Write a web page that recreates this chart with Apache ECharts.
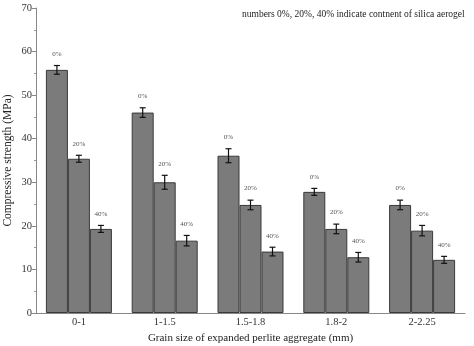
<!DOCTYPE html>
<html><head><meta charset="utf-8">
<script src="https://cdn.jsdelivr.net/npm/echarts@6/dist/echarts.min.js"></script>
<style>html,body{margin:0;padding:0;background:#fff}#c{width:474px;height:346px}</style>
</head><body><div id="c"></div>
<script>
var categories = ['0-1', '1-1.5', '1.5-1.8', '1.8-2', '2-2.25'];
var seriesNames = ['0%', '20%', '40%'];
var values0 = [55.8, 46.0, 36.1, 27.8, 24.8];
var values20 = [35.4, 30.0, 24.8, 19.3, 18.9];
var values40 = [19.3, 16.6, 14.1, 12.8, 12.2];
var err0 = [1.0, 1.1, 1.6, 0.8, 1.1];
var err20 = [0.8, 1.6, 1.1, 1.1, 1.2];
var err40 = [0.8, 1.2, 1.0, 1.1, 0.8];
var yTicks = [0, 10, 20, 30, 40, 50, 60, 70];

var allVals = [values0, values20, values40];
var allErr = [err0, err20, err40];
var FONT = '"Liberation Serif", "DejaVu Serif", serif';
var BARW = 22;

var chart = echarts.init(document.getElementById('c'));
var series = [];
allVals.forEach(function (vals, si) {
  series.push({
    type: 'bar', name: seriesNames[si], data: vals, barWidth: BARW, barGap: '0%',
    itemStyle: { color: '#7b7b7b', borderColor: '#3a3a3a', borderWidth: 1 },
    silent: true, z: 2
  });
});
allVals.forEach(function (vals, si) {
  var errs = allErr[si];
  series.push({
    type: 'custom', z: 5, silent: true,
    data: vals.map(function (v, i) { return [i, v - errs[i], v + errs[i]]; }),
    encode: { x: 0, y: [1, 2] },
    renderItem: function (params, api) {
      var x = api.value(0);
      var lo = api.coord([x, api.value(1)]);
      var hi = api.coord([x, api.value(2)]);
      var cx = lo[0] + (si - 1) * BARW;
      var cap = 3;
      var st = { stroke: '#111', lineWidth: 1.2 };
      return { type: 'group', children: [
        { type: 'line', shape: { x1: cx, y1: lo[1], x2: cx, y2: hi[1] }, style: st },
        { type: 'line', shape: { x1: cx - cap, y1: lo[1], x2: cx + cap, y2: lo[1] }, style: st },
        { type: 'line', shape: { x1: cx - cap, y1: hi[1], x2: cx + cap, y2: hi[1] }, style: st },
        { type: 'text', style: { text: seriesNames[si], x: cx, y: hi[1] - 8, align: 'center', verticalAlign: 'bottom', fill: '#555', font: '7px ' + FONT } }
      ] };
    }
  });
});

chart.setOption({
  animation: false,
  grid: { left: 36, right: 9, top: 8, bottom: 33, containLabel: false, outerBoundsMode: 'none' },
  xAxis: {
    type: 'category', data: categories,
    name: 'Grain size of expanded perlite aggregate (mm)', nameLocation: 'middle', nameGap: 19,
    nameTextStyle: { fontFamily: FONT, fontSize: 11, color: '#222' },
    axisLine: { lineStyle: { color: '#888' } },
    axisTick: { show: false },
    axisLabel: { fontFamily: FONT, fontSize: 10.5, color: '#333', margin: 4 }
  },
  yAxis: {
    type: 'value', min: 0, max: 70, interval: 10,
    name: 'Compressive strength (MPa)', nameLocation: 'middle', nameGap: 22,
    nameMoveOverlap: false,
    nameTextStyle: { fontFamily: FONT, fontSize: 11.5, color: '#222' },
    axisLine: { show: true, lineStyle: { color: '#888' } },
    axisTick: { show: true, length: 4, lineStyle: { color: '#888' } },
    minorTick: { show: true, splitNumber: 2, length: 2, lineStyle: { color: '#999' } },
    splitLine: { show: false },
    axisLabel: { fontFamily: FONT, fontSize: 10.5, color: '#333', margin: 4,
      formatter: function (v) { return yTicks.indexOf(v) >= 0 ? String(v) : ''; } }
  },
  graphic: [{
    type: 'text', left: 242, top: 9,
    style: { text: 'numbers 0%, 20%, 40% indicate contnent of silica aerogel', font: '9.5px ' + FONT, fill: '#222' }
  }],
  series: series
});
</script></body></html>
